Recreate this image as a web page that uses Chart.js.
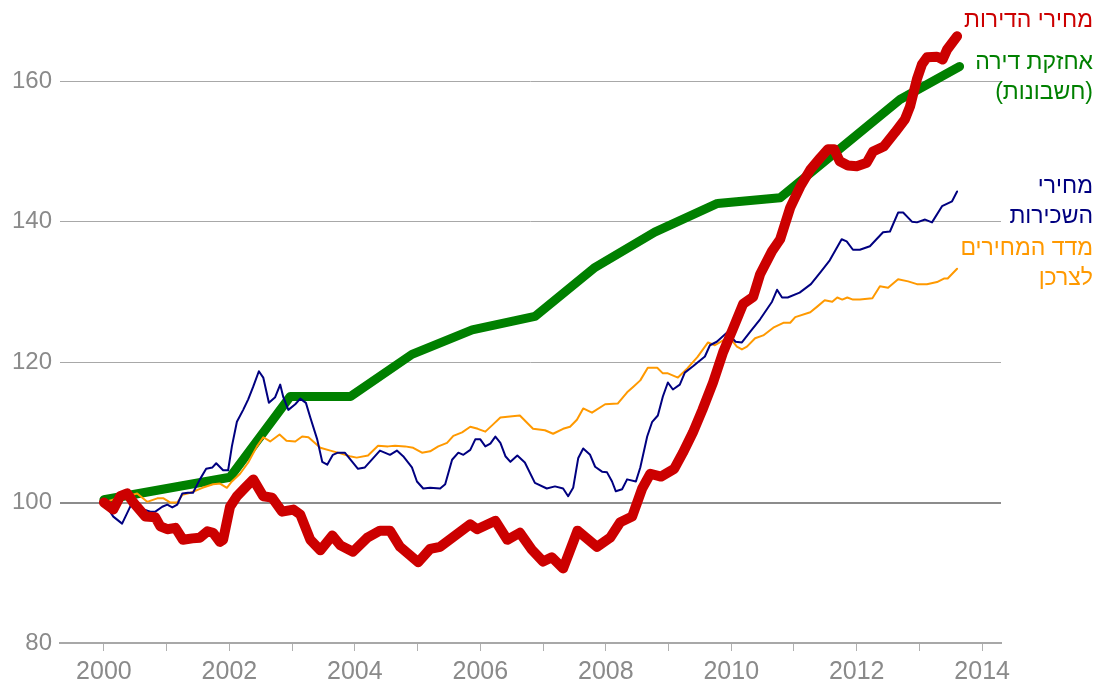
<!DOCTYPE html>
<html lang="he">
<head>
<meta charset="utf-8">
<title>מחירי הדירות</title>
<script src="https://cdn.jsdelivr.net/npm/chart.js@4.4.1/dist/chart.umd.min.js"></script>
<style>
  html, body { margin: 0; padding: 0; background: #fff; }
  #wrap { width: 1098px; height: 685px; }
</style>
</head>
<body>
<div id="wrap"><canvas id="chart" width="1098" height="685"></canvas></div>
<script>
// [year, index] pairs (index 2000 = 100)
const housePrices = [
  [2000.0, 100.0], [2000.15, 99.0], [2000.26, 100.9], [2000.37, 101.3], [2000.47, 100.0],
  [2000.66, 98.0], [2000.82, 97.9], [2000.9, 96.6], [2001.01, 96.2], [2001.14, 96.4],
  [2001.26, 94.7], [2001.41, 94.9], [2001.53, 95.0], [2001.65, 95.9], [2001.74, 95.7],
  [2001.85, 94.4], [2001.9, 94.7], [2002.01, 99.4], [2002.12, 100.9], [2002.25, 102.1],
  [2002.38, 103.3], [2002.54, 100.9], [2002.68, 100.7], [2002.84, 98.7], [2003.02, 99.0],
  [2003.13, 98.3], [2003.29, 94.7], [2003.45, 93.2], [2003.64, 95.3], [2003.77, 93.9],
  [2003.97, 93.0], [2004.2, 95.0], [2004.4, 96.0], [2004.56, 96.0], [2004.72, 93.7],
  [2005.01, 91.5], [2005.2, 93.4], [2005.36, 93.7], [2005.6, 95.3], [2005.84, 96.9],
  [2005.95, 96.2], [2006.24, 97.4], [2006.43, 94.7], [2006.63, 95.7], [2006.82, 93.3],
  [2007.0, 91.6], [2007.14, 92.2], [2007.32, 90.6], [2007.55, 96.0], [2007.86, 93.7],
  [2008.07, 95.0], [2008.23, 97.2], [2008.42, 98.0], [2008.58, 102.0], [2008.71, 104.1],
  [2008.88, 103.7], [2009.09, 104.8], [2009.23, 107.1], [2009.39, 110.0], [2009.54, 113.2],
  [2009.71, 117.1], [2009.87, 121.4], [2010.03, 124.8], [2010.19, 128.3], [2010.35, 129.3],
  [2010.46, 132.5], [2010.65, 135.8], [2010.78, 137.5], [2010.94, 142.0], [2011.1, 145.0],
  [2011.26, 147.4], [2011.42, 149.1], [2011.54, 150.3], [2011.64, 150.3], [2011.73, 148.6],
  [2011.86, 148.0], [2012.0, 147.9], [2012.16, 148.4], [2012.26, 150.0], [2012.43, 150.7],
  [2012.61, 152.7], [2012.77, 154.6], [2012.85, 156.4], [2012.96, 160.3], [2013.04, 162.4],
  [2013.12, 163.4], [2013.28, 163.5], [2013.37, 163.1], [2013.44, 164.5], [2013.6, 166.4]
];

const ownershipCost = [
  [2000.0, 100.4], [2002.01, 103.6], [2002.97, 115.1], [2003.93, 115.1], [2004.91, 121.1],
  [2005.87, 124.6], [2006.87, 126.5], [2007.83, 133.5], [2008.78, 138.5], [2009.78, 142.6],
  [2010.78, 143.4], [2012.69, 157.4], [2013.64, 162.1]
];

const rentPrices = [
  [2000.0, 100.0], [2000.15, 98.0], [2000.29, 97.0], [2000.45, 100.0], [2000.61, 99.1],
  [2000.74, 98.7], [2000.82, 98.7], [2000.93, 99.4], [2001.01, 99.7], [2001.09, 99.3],
  [2001.17, 99.7], [2001.25, 101.3], [2001.34, 101.4], [2001.42, 101.4], [2001.53, 103.3],
  [2001.63, 104.8], [2001.73, 105.0], [2001.79, 105.6], [2001.9, 104.6], [2001.98, 104.6],
  [2002.04, 108.0], [2002.12, 111.5], [2002.22, 113.2], [2002.3, 114.7], [2002.38, 116.5],
  [2002.47, 118.7], [2002.54, 117.8], [2002.63, 114.2], [2002.73, 115.0], [2002.81, 116.8],
  [2002.86, 115.0], [2002.94, 113.2], [2003.05, 114.0], [2003.13, 114.8], [2003.22, 114.2],
  [2003.29, 112.1], [2003.4, 109.0], [2003.48, 105.8], [2003.56, 105.4], [2003.65, 106.8],
  [2003.73, 107.1], [2003.84, 107.1], [2004.05, 104.8], [2004.16, 105.0], [2004.4, 107.4],
  [2004.56, 106.8], [2004.67, 107.4], [2004.77, 106.6], [2004.91, 105.0], [2004.99, 103.0],
  [2005.09, 102.0], [2005.2, 102.1], [2005.36, 102.0], [2005.44, 102.6], [2005.55, 106.1],
  [2005.65, 107.1], [2005.73, 106.8], [2005.84, 107.5], [2005.92, 109.0], [2006.0, 109.0],
  [2006.08, 108.0], [2006.16, 108.4], [2006.24, 109.4], [2006.32, 108.5], [2006.4, 106.6],
  [2006.48, 105.8], [2006.59, 106.7], [2006.71, 105.7], [2006.87, 102.8], [2007.06, 102.0],
  [2007.19, 102.3], [2007.32, 102.0], [2007.4, 100.9], [2007.48, 102.1], [2007.56, 106.3],
  [2007.64, 107.7], [2007.75, 106.8], [2007.83, 105.1], [2007.94, 104.4], [2008.02, 104.3],
  [2008.1, 103.0], [2008.16, 101.6], [2008.26, 101.9], [2008.34, 103.3], [2008.48, 103.0],
  [2008.55, 105.0], [2008.66, 109.4], [2008.74, 111.5], [2008.83, 112.4], [2008.91, 115.1],
  [2008.99, 117.1], [2009.07, 116.1], [2009.18, 116.8], [2009.26, 118.5], [2009.39, 119.4],
  [2009.58, 120.8], [2009.66, 122.4], [2009.77, 122.9], [2009.93, 124.2], [2010.07, 122.9],
  [2010.17, 122.8], [2010.31, 124.4], [2010.46, 126.1], [2010.65, 128.6], [2010.73, 130.3],
  [2010.81, 129.2], [2010.9, 129.2], [2011.09, 129.9], [2011.27, 131.1], [2011.43, 132.9],
  [2011.57, 134.5], [2011.76, 137.5], [2011.84, 137.2], [2011.94, 136.0], [2012.05, 136.0],
  [2012.21, 136.5], [2012.42, 138.5], [2012.53, 138.6], [2012.66, 141.3], [2012.74, 141.3],
  [2012.88, 140.0], [2012.96, 139.9], [2013.09, 140.3], [2013.2, 139.9], [2013.36, 142.2],
  [2013.52, 142.9], [2013.6, 144.3]
];

const consumerPrices = [
  [2000.0, 100.0], [2000.21, 100.6], [2000.37, 100.9], [2000.53, 101.3], [2000.69, 100.1],
  [2000.85, 100.6], [2000.95, 100.6], [2001.06, 100.0], [2001.17, 100.0], [2001.25, 101.1],
  [2001.38, 101.4], [2001.57, 102.1], [2001.74, 102.6], [2001.85, 102.7], [2001.96, 102.1],
  [2002.04, 103.0], [2002.17, 104.1], [2002.3, 105.7], [2002.44, 108.0], [2002.54, 109.3],
  [2002.65, 108.7], [2002.8, 109.7], [2002.91, 108.8], [2003.05, 108.7], [2003.16, 109.4],
  [2003.26, 109.3], [2003.45, 107.8], [2003.61, 107.4], [2003.77, 107.0], [2003.92, 106.6],
  [2004.03, 106.4], [2004.21, 106.7], [2004.37, 108.1], [2004.53, 108.0], [2004.64, 108.1],
  [2004.8, 108.0], [2004.93, 107.8], [2005.07, 107.1], [2005.2, 107.3], [2005.33, 108.0],
  [2005.47, 108.5], [2005.57, 109.5], [2005.71, 110.0], [2005.84, 110.8], [2005.96, 110.5],
  [2006.08, 110.1], [2006.2, 111.1], [2006.32, 112.1], [2006.51, 112.3], [2006.63, 112.4],
  [2006.84, 110.5], [2007.03, 110.3], [2007.16, 109.8], [2007.32, 110.5], [2007.43, 110.8],
  [2007.54, 111.8], [2007.64, 113.4], [2007.78, 112.8], [2007.99, 114.0], [2008.19, 114.1],
  [2008.34, 115.7], [2008.44, 116.5], [2008.55, 117.4], [2008.67, 119.2], [2008.82, 119.2],
  [2008.91, 118.4], [2008.99, 118.4], [2009.15, 117.8], [2009.3, 119.1], [2009.46, 120.7],
  [2009.63, 122.8], [2009.74, 122.4], [2009.87, 123.1], [2010.01, 123.1], [2010.09, 122.2],
  [2010.17, 121.8], [2010.25, 122.2], [2010.38, 123.4], [2010.51, 123.8], [2010.67, 124.9],
  [2010.83, 125.6], [2010.94, 125.6], [2011.02, 126.4], [2011.26, 127.1], [2011.37, 127.9],
  [2011.49, 128.8], [2011.61, 128.6], [2011.69, 129.2], [2011.77, 128.9], [2011.85, 129.2],
  [2011.94, 128.9], [2012.05, 128.9], [2012.25, 129.1], [2012.37, 130.8], [2012.5, 130.6],
  [2012.66, 131.8], [2012.82, 131.5], [2012.96, 131.1], [2013.12, 131.1], [2013.28, 131.4],
  [2013.39, 131.9], [2013.45, 131.9], [2013.6, 133.3]
];

const yearTicks = [2000, 2001, 2002, 2003, 2004, 2005, 2006, 2007, 2008, 2009, 2010, 2011, 2012, 2013, 2014];
const valueTicks = [80, 100, 120, 140, 160];

const RED = '#cc0000';
const GREEN = '#008000';
const NAVY = '#000080';
const ORANGE = '#ff9900';
const GRAY = '#8a8a8a';

// Hebrew labels at the right of the plot
const seriesLabels = [
  { lines: ['מחירי הדירות'], color: RED, top: 21 },
  { lines: ['אחזקת דירה', '(חשבונות)'], color: GREEN, top: 63 },
  { lines: ['מחירי', 'השכירות'], color: NAVY, top: 187 },
  { lines: ['מדד המחירים', 'לצרכן'], color: ORANGE, top: 249 }
];

const toPoints = pairs => pairs.map(([x, y]) => ({ x, y }));

const labelPlugin = {
  id: 'seriesLabels',
  afterDraw(chart) {
    const ctx = chart.ctx;
    const right = chart.chartArea.right + 92;
    ctx.save();
    ctx.font = '23px "Liberation Sans", Arial, sans-serif';
    ctx.direction = 'rtl';
    ctx.textAlign = 'right';
    ctx.textBaseline = 'middle';
    seriesLabels.forEach(label => {
      ctx.fillStyle = label.color;
      label.lines.forEach((line, i) => {
        ctx.fillText(line, right, label.top + i * 30);
      });
    });
    ctx.restore();
  }
};

Chart.defaults.font.family = '"Liberation Sans", Arial, sans-serif';

const lineStyle = (color, width) => ({
  borderColor: color,
  backgroundColor: color,
  borderWidth: width,
  pointRadius: 0,
  pointHoverRadius: 0,
  tension: 0,
  fill: false,
  borderJoinStyle: 'round',
  borderCapStyle: 'round'
});

new Chart(document.getElementById('chart'), {
  type: 'line',
  data: {
    datasets: [
      { label: 'מחירי הדירות', data: toPoints(housePrices), order: 0, ...lineStyle(RED, 10) },
      { label: 'מחירי השכירות', data: toPoints(rentPrices), order: 1, ...lineStyle(NAVY, 2) },
      { label: 'מדד המחירים לצרכן', data: toPoints(consumerPrices), order: 2, ...lineStyle(ORANGE, 2) },
      { label: 'אחזקת דירה (חשבונות)', data: toPoints(ownershipCost), order: 3, ...lineStyle(GREEN, 9) }
    ]
  },
  options: {
    responsive: false,
    animation: false,
    devicePixelRatio: 1,
    layout: { padding: { top: 11, right: 97, left: 0, bottom: 0 } },
    plugins: {
      legend: { display: false },
      tooltip: { enabled: false }
    },
    scales: {
      x: {
        type: 'linear',
        min: 1999.3,
        max: 2014.3,
        afterBuildTicks: axis => { axis.ticks = yearTicks.map(v => ({ value: v })); },
        afterFit: axis => {
          axis.height = 42;
          axis.paddingLeft = 0;
          axis.paddingRight = 0;
        },
        border: { display: true, color: '#a8a8a8', width: 2 },
        grid: { drawOnChartArea: false, drawTicks: true, tickLength: 8, color: '#b0b0b0' },
        ticks: {
          autoSkip: false,
          maxRotation: 0,
          padding: 6,
          color: GRAY,
          font: { size: 25 },
          callback: v => (v % 2 === 0 ? String(v) : '')
        }
      },
      y: {
        min: 80,
        max: 170,
        afterBuildTicks: axis => { axis.ticks = valueTicks.map(v => ({ value: v })); },
        afterFit: axis => {
          axis.width = 60;
          axis.paddingTop = 0;
          axis.paddingBottom = 0;
        },
        border: { display: false },
        grid: {
          drawTicks: false,
          color: ctx => (ctx.tick.value === 100 ? '#8c8c8c' : '#a8a8a8'),
          lineWidth: ctx => (ctx.tick.value === 100 ? 2 : 1)
        },
        ticks: {
          padding: 8,
          color: GRAY,
          font: { size: 24 }
        }
      }
    }
  },
  plugins: [labelPlugin]
});
</script>
</body>
</html>
